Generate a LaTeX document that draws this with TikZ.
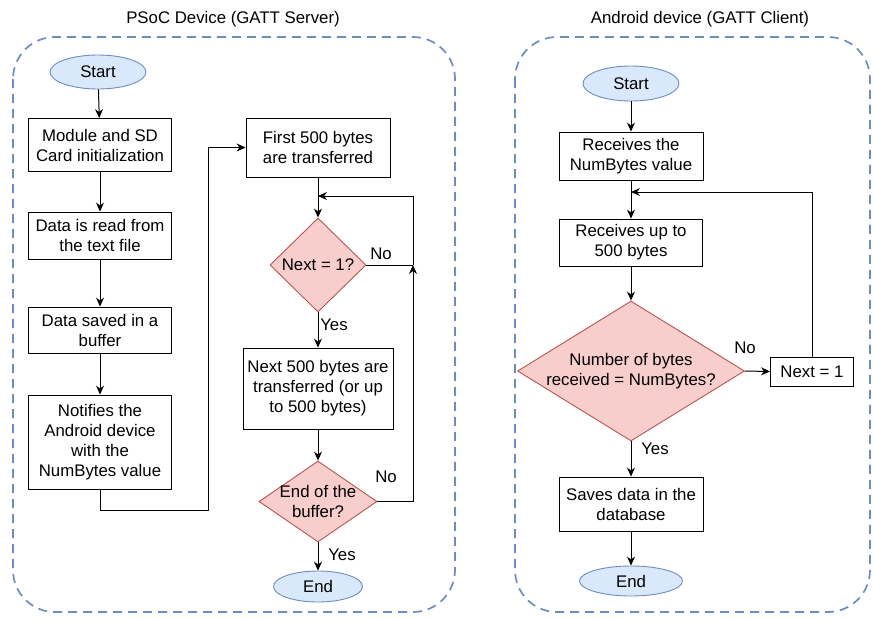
\documentclass[tikz,border=0pt]{standalone}
\usepackage{fontspec}
\setmainfont{Liberation Sans}
\usetikzlibrary{shapes.geometric,arrows.meta}
\definecolor{bluefill}{HTML}{DAE8FC}
\definecolor{blueline}{HTML}{6C8EBF}
\definecolor{redfill}{HTML}{F8CECC}
\definecolor{redline}{HTML}{B85450}
\tikzset{
  base/.style={font=\fontsize{16.8}{20}\selectfont, inner sep=0pt, align=center},
  procbox/.style={base, draw=black, line width=0.9pt},
  termnode/.style={base, ellipse, draw=blueline, fill=bluefill, line width=0.9pt},
  decnode/.style={base, diamond, draw=redline, fill=redfill, line width=0.9pt},
  lbl/.style={base},
  arr/.style={line width=1pt, -{Stealth[length=9pt,width=8pt]}},
  plain/.style={line width=1pt},
  container/.style={draw=blueline, line width=1.7pt, dash pattern=on 9pt off 6pt, rounded corners=42pt},
}
\begin{document}
\begin{tikzpicture}[x=1pt,y=-1pt]
\useasboundingbox (0,0) rectangle (873,619);
% containers
\draw[container] (13,37) rectangle (455,612);
\draw[container] (515,37) rectangle (870,612);
\node[lbl] (t1) at (233,19) {PSoC Device (GATT Server)};
\node[lbl] (t2) at (700,19) {Android device (GATT Client)};

% left column
\node[termnode, minimum width=96, minimum height=34] (s1) at (98,72) {Start};
\node[procbox, minimum width=143, minimum height=53] (m1) at (100,145) {Module and SD\\Card initialization};
\node[procbox, minimum width=143, minimum height=47] (m2) at (100,235.5) {Data is read from\\the text file};
\node[procbox, minimum width=143, minimum height=46] (m3) at (100,330) {Data saved in a\\buffer};
\node[procbox, minimum width=143, minimum height=94] (m4) at (100,442) {Notifies the\\Android device\\with the\\NumBytes value};
\coordinate (b1) at (208,510);

% middle column
\node[procbox, minimum width=144, minimum height=59] (f1) at (318,147.5) {First 500 bytes\\are transferred};
\node[decnode, minimum width=96, minimum height=94, label={[lbl]center:Next = 1?}] (d1) at (318,265) {};
\node[procbox, minimum width=150, minimum height=81] (f2) at (318,388.5) {Next 500 bytes are\\transferred (or up\\to 500 bytes)};
\node[decnode, minimum width=118, minimum height=81, label={[lbl]center:End of the\\buffer?}] (d2) at (318,501.5) {};
\node[termnode, minimum width=89, minimum height=31] (e1) at (318,586.5) {End};
\coordinate (lpB) at (413,196);
\coordinate (lpA) at (d1.east -| lpB);

\node[lbl] (no1) at (381,254) {No};
\node[lbl] (yes1) at (334,325) {Yes};
\node[lbl] (no2) at (386,477) {No};
\node[lbl] (yes2) at (342,555) {Yes};

% right column
\node[termnode, minimum width=96, minimum height=35] (s2) at (631,83.5) {Start};
\node[procbox, minimum width=144, minimum height=48] (r1) at (631,156) {Receives the\\NumBytes value};
\node[procbox, minimum width=143, minimum height=47] (r2) at (631,242.5) {Receives up to\\500 bytes};
\node[decnode, minimum width=227, minimum height=140, label={[lbl]center:Number of bytes\\received = NumBytes?}] (d3) at (631,371) {};
\node[procbox, minimum width=83, minimum height=29] (n1) at (812,371.5) {Next = 1};
\node[procbox, minimum width=144, minimum height=54] (r3) at (631,504) {Saves data in the\\database};
\node[termnode, minimum width=103, minimum height=30] (e2) at (631,581) {End};
\coordinate (rl) at (812,192);

\node[lbl] (no3) at (745,348) {No};
\node[lbl] (yes3) at (655,449) {Yes};

% connectors left
\draw[arr] (s1) -- (m1);
\draw[arr] (m1) -- (m2);
\draw[arr] (m2) -- (m3);
\draw[arr] (m3) -- (m4);
\draw[arr] (m4.south) |- (b1) |- (f1.west);
\draw[arr] (f1) -- (d1.north);
\draw[arr] (d1.south) -- (f2.north);
\draw[arr] (f2) -- (d2.north);
\draw[arr] (d2.south) -- (e1);
\draw[arr] (d2.east) -| (lpA);
\draw[plain] (d1.east) -- (lpA);
\draw[arr] (lpA) -- (lpB) -- (f1.south |- lpB);

% connectors right
\draw[arr] (s2) -- (r1);
\draw[arr] (r1) -- (r2);
\draw[arr] (r2) -- (d3.north);
\draw[arr] (d3.east) -- (n1.west);
\draw[arr] (n1.north) |- (r1.south |- rl);
\draw[arr] (d3.south) -- (r3.north);
\draw[arr] (r3) -- (e2);
\end{tikzpicture}
\end{document}
